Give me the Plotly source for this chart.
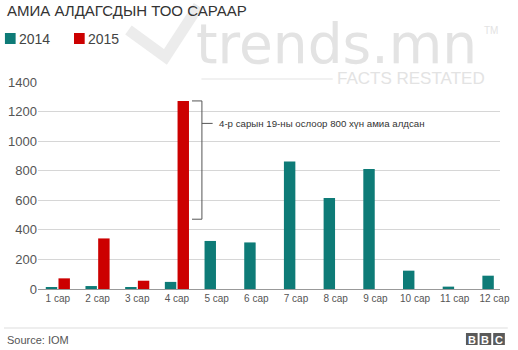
import plotly.graph_objects as go

# ---- data ----
months = ["1 сар", "2 сар", "3 сар", "4 сар", "5 сар", "6 сар",
          "7 сар", "8 сар", "9 сар", "10 сар", "11 сар", "12 сар"]
deaths_2014 = [9, 20, 9, 48, 325, 315, 862, 616, 812, 124, 16, 90]
deaths_2015 = [72, 342, 56, 1272, None, None, None, None, None, None, None, None]
series_names = ["2014", "2015"]
y_ticks = [0, 200, 400, 600, 800, 1000, 1200, 1400]

title_text = "АМИА АЛДАГСДЫН ТОО САРААР"
note_text = "4-р сарын 19-ны ослоор 800 хүн амиа алдсан"
source_text = "Source: IOM"

TEAL = "#0e7b77"
RED = "#cc0000"
FONT = "Liberation Sans, Arial, sans-serif"

# ---- layout geometry (pixels) ----
WIDTH, HEIGHT = 518, 350
L, R, T, B = 35, 8, 82, 61
PW = WIDTH - L - R
PH = HEIGHT - T - B


def pxx(x):
    return (x - L) / PW


def pxy(y):
    return (HEIGHT - B - y) / PH


fig = go.Figure()
fig.add_trace(go.Bar(x=months, y=deaths_2014, name=series_names[0],
                     marker=dict(color=TEAL, line=dict(width=0))))
fig.add_trace(go.Bar(x=months, y=deaths_2015, name=series_names[1],
                     marker=dict(color=RED, line=dict(width=0))))

shapes = []
annotations = []

# watermark (faint)
WM = "#e3e3e3"
shapes.append(dict(type="path", xref="paper", yref="paper", layer="above",
                   path=f"M {pxx(128)},{pxy(30)} L {pxx(166)},{pxy(57)} L {pxx(200)},{pxy(6)}",
                   line=dict(color="#ececec", width=11)))
annotations.append(dict(text="trends.mn", xref="paper", yref="paper",
                        x=pxx(195), y=pxy(78), xanchor="left", yanchor="bottom",
                        showarrow=False, font=dict(family="DejaVu Sans", size=55, color=WM)))
annotations.append(dict(text="TM", xref="paper", yref="paper",
                        x=pxx(491), y=pxy(30), xanchor="left", yanchor="middle",
                        showarrow=False, font=dict(family=FONT, size=10, color=WM)))
shapes.append(dict(type="line", xref="paper", yref="paper", layer="above",
                   x0=pxx(203), x1=pxx(338), y0=pxy(79), y1=pxy(79),
                   line=dict(color="#e3e3e3", width=1)))
annotations.append(dict(text="FACTS RESTATED", xref="paper", yref="paper",
                        x=pxx(340), y=pxy(79), xanchor="left", yanchor="middle",
                        showarrow=False, font=dict(family=FONT, size=17, color=WM)))

# bracket annotation for April 2015
top = deaths_2015[3]
bottom = top - 800
xb = 3.63
bracket = dict(color="#555555", width=1)
shapes.append(dict(type="line", xref="x", yref="y", x0=3.38, x1=xb, y0=top, y1=top, line=bracket))
shapes.append(dict(type="line", xref="x", yref="y", x0=3.38, x1=xb, y0=bottom, y1=bottom, line=bracket))
shapes.append(dict(type="line", xref="x", yref="y", x0=xb, x1=xb, y0=bottom, y1=top, line=bracket))
shapes.append(dict(type="line", xref="x", yref="y", x0=xb, x1=3.9, y0=1120, y1=1120, line=bracket))
annotations.append(dict(text=note_text, xref="x", yref="y", x=4.0, y=1120,
                        xanchor="left", yanchor="middle", showarrow=False,
                        font=dict(family=FONT, size=9.7, color="#333333")))

# title
annotations.append(dict(text=title_text, xref="paper", yref="paper",
                        x=pxx(1), y=pxy(10), xanchor="left", yanchor="middle",
                        showarrow=False, font=dict(family=FONT, size=15, color="#333333")))

# legend (manual)
for i, (name, col, x0) in enumerate([(series_names[0], TEAL, 1), (series_names[1], RED, 72)]):
    shapes.append(dict(type="rect", xref="paper", yref="paper",
                       x0=pxx(x0), x1=pxx(x0 + 11), y0=pxy(33), y1=pxy(44),
                       fillcolor=col, line=dict(width=0)))
    annotations.append(dict(text=name, xref="paper", yref="paper",
                            x=pxx(x0 + 12), y=pxy(39), xanchor="left", yanchor="middle",
                            showarrow=False, font=dict(family=FONT, size=14, color="#444444")))

# footer
shapes.append(dict(type="line", xref="paper", yref="paper",
                   x0=pxx(0), x1=pxx(WIDTH), y0=pxy(328), y1=pxy(328),
                   line=dict(color="#dddddd", width=1)))
annotations.append(dict(text=source_text, xref="paper", yref="paper",
                        x=pxx(1), y=pxy(340), xanchor="left", yanchor="middle",
                        showarrow=False, font=dict(family=FONT, size=11, color="#555555")))
for j, letter in enumerate("BBC"):
    x0 = 475 + j * 14
    shapes.append(dict(type="rect", xref="paper", yref="paper",
                       x0=pxx(x0), x1=pxx(x0 + 12), y0=pxy(333), y1=pxy(345),
                       fillcolor="#5a5a5a", line=dict(width=0)))
    annotations.append(dict(text=f"<b>{letter}</b>", xref="paper", yref="paper",
                            x=pxx(x0 + 6), y=pxy(339.5), xanchor="center", yanchor="middle",
                            showarrow=False, font=dict(family=FONT, size=11, color="#ffffff")))

fig.update_layout(
    width=WIDTH, height=HEIGHT,
    margin=dict(l=L, r=R, t=T, b=B, pad=0),
    paper_bgcolor="white", plot_bgcolor="white",
    showlegend=False,
    barmode="group", bargap=0.36, bargroupgap=0.1,
    font=dict(family=FONT, color="#555555"),
    shapes=shapes, annotations=annotations,
    xaxis=dict(type="category", range=[-0.5, 11.14], showgrid=False,
               showline=True, linecolor="#999999", linewidth=1,
               ticks="", tickfont=dict(size=10, color="#555555"), fixedrange=True),
    yaxis=dict(range=[0, 1400], tickvals=y_ticks, showgrid=True,
               gridcolor="#d6d6d6", gridwidth=1, zeroline=False, showline=False,
               ticks="", tickfont=dict(size=13, color="#555555"), fixedrange=True),
)

fig.write_html("out.html", config={"displayModeBar": False})
